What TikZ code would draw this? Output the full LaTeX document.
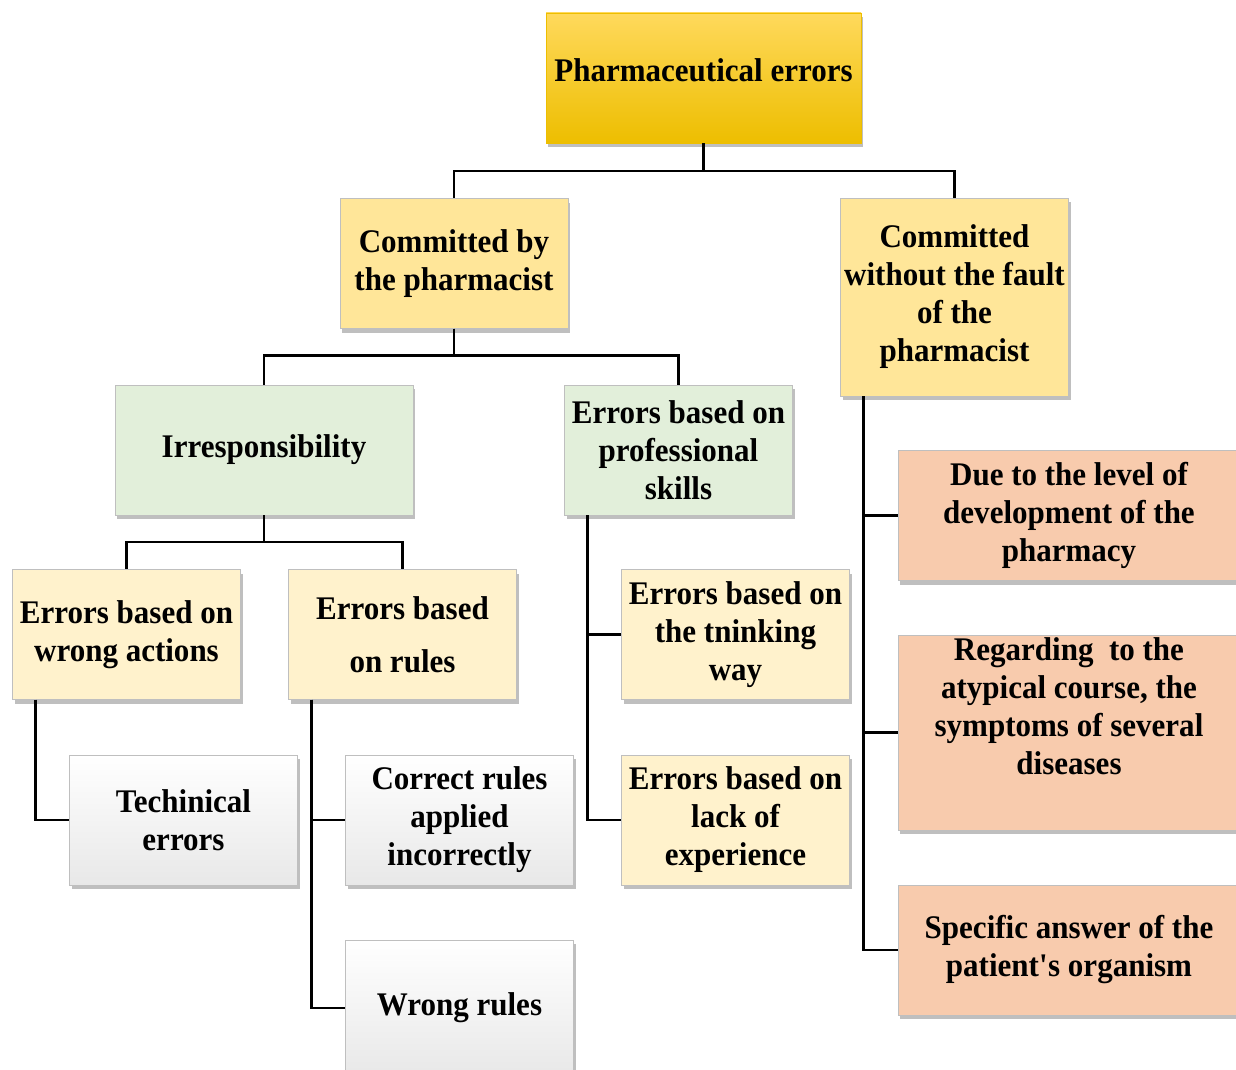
\documentclass[tikz,border=0pt]{standalone}
\usepackage{fontspec}
\setmainfont{Liberation Serif}[FakeStretch=0.94]
\usepackage{xcolor}
\definecolor{rootlight}{HTML}{FFD95C}
\definecolor{rootdark}{HTML}{EDBE00}
\definecolor{pharmacist}{HTML}{FFE699}
\definecolor{skill}{HTML}{E2EFDA}
\definecolor{kind}{HTML}{FFF2CC}
\definecolor{cause}{HTML}{F8CBAD}
\definecolor{edge}{HTML}{BFBFBF}
\usepackage{tikz}
\usetikzlibrary{shadows}
\tikzset{
    font={\fontsize{33pt}{38pt}\selectfont\bfseries},
    box/.style={draw=edge, align=center, inner sep=0pt,
        minimum width=228, minimum height=130,
        drop shadow={shadow xshift=2pt, shadow yshift=-4pt, opacity=.5}},
    rootbox/.style={box, draw=rootdark, top color=rootlight, bottom color=rootdark},
    bybox/.style={box, fill=pharmacist},
    skillbox/.style={box, fill=skill},
    kindbox/.style={box, fill=kind},
    graybox/.style={box, top color=white, bottom color=gray!18},
    causebox/.style={box, fill=cause},
    link/.style={line width=2.5pt},
    }

\begin{document}
\begin{tikzpicture}
    [x=1pt, y=-1pt]
    \fill[white] (0,0) rectangle (1236,1070);
    \useasboundingbox (0,0) rectangle (1236,1070);
    % top
    \node[rootbox, minimum width=315] (root) at (703.5,78)
        {\raisebox{16pt}{Pharmaceutical errors}};
    \node[bybox] (byph) at (454,263.5) {Committed by\\the pharmacist};
    \node[bybox, minimum height=198] (nofault) at (954.5,297)
        {Committed\\without the fault\\of the\\pharmacist};
    % by the pharmacist
    \node[skillbox, minimum width=298] (irresp) at (264,450) {Irresponsibility};
    \node[skillbox] (skills) at (678.5,450) {Errors based on\\professional\\skills};
    \node[kindbox] (wrongact) at (126.5,634.5) {Errors based on\\wrong actions};
    \node[kindbox] (rules) at (402.5,634.5) {Errors based\\[15pt]on rules};
    \node[kindbox] (thinking) at (735.5,634.5) {Errors based on\\the tninking\\way};
    \node[kindbox] (lackexp) at (735.5,820) {Errors based on\\lack of\\experience};
    \node[graybox] (tech) at (183.5,820) {Techinical\\errors};
    \node[graybox] (correct) at (459.5,820) {Correct rules\\applied\\incorrectly};
    \node[graybox, minimum height=136] (wrongrules) at (459.5,1008) {Wrong rules};
    % without the fault
    \node[causebox, minimum width=342] (level) at (1069,515.5)
        {Due to the level of\\development of the\\pharmacy};
    \node[causebox, minimum width=342, minimum height=195] (regarding) at (1069,732.5)
        {Regarding\ \ to the\\atypical course, the\\symptoms of several\\diseases\\[14pt]\mbox{}};
    \node[causebox, minimum width=342] (specific) at (1069,950)
        {Specific answer of the\\patient\textquotesingle s organism};
    % connectors
    \draw[link] (root.south) -- ++(0,28) -| (byph.north);
    \draw[link] (root.south) -- ++(0,28) -| (nofault.north);
    \draw[link] (byph.south) -- ++(0,27) -| (irresp.north);
    \draw[link] (byph.south) -- ++(0,27) -| (skills.north);
    \draw[link] (irresp.south) -- ++(0,27) -| (wrongact.north);
    \draw[link] (irresp.south) -- ++(0,27) -| (rules.north);
    \draw[link] ([xshift=23pt]wrongact.south west) |- (tech.west);
    \draw[link] ([xshift=23pt]rules.south west) |- (correct.west);
    \draw[link] ([xshift=23pt]rules.south west) |- (wrongrules.west);
    \draw[link] ([xshift=23pt]skills.south west) |- (thinking.west);
    \draw[link] ([xshift=23pt]skills.south west) |- (lackexp.west);
    \draw[link] ([xshift=23pt]nofault.south west) |- (level.west);
    \draw[link] ([xshift=23pt]nofault.south west) |- (regarding.west);
    \draw[link] ([xshift=23pt]nofault.south west) |- (specific.west);
\end{tikzpicture}
\end{document}
